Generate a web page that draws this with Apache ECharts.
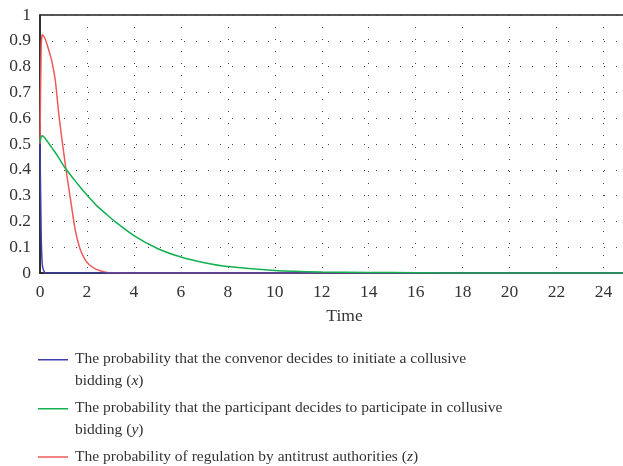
<!DOCTYPE html>
<html>
<head>
<meta charset="utf-8">
<script src="https://cdn.jsdelivr.net/npm/echarts@6/dist/echarts.min.js"></script>
<style>
  html, body { margin: 0; padding: 0; background: #fff; }
  #chart { width: 623px; height: 466px; }
</style>
</head>
<body>
<div id="chart"></div>
<script>
// time samples (x axis)
const time = [0, 0.05, 0.1, 0.2, 0.33, 0.5, 0.65, 0.82, 1.1, 1.3, 1.5, 1.7, 1.9, 2.1, 2.4, 2.8,
  3.2, 4, 5, 6, 7, 8, 10, 12, 14, 16, 18, 20, 22, 24, 25]

// x: convenor initiates collusive bidding
const probX = [0.5, 0.15, 0.03, 0.002, 0, 0, 0, 0, 0, 0, 0, 0, 0, 0, 0, 0,
  0, 0, 0, 0, 0, 0, 0, 0, 0, 0, 0, 0, 0, 0, 0]
// y: participant joins collusive bidding
const probY = [0.505, 0.528, 0.532, 0.524, 0.508, 0.486, 0.467, 0.443, 0.403, 0.38, 0.357, 0.334, 0.312, 0.292, 0.262, 0.23,
  0.199, 0.145, 0.095, 0.062, 0.04, 0.025, 0.01, 0.004, 0.002, 0.001, 0, 0, 0, 0, 0]
// z: regulation by antitrust authorities
const probZ = [0.5, 0.88, 0.924, 0.912, 0.877, 0.822, 0.748, 0.6, 0.405, 0.285, 0.167, 0.095, 0.055, 0.032, 0.014, 0.003,
  0.0005, 0, 0, 0, 0, 0, 0, 0, 0, 0, 0, 0, 0, 0, 0]

const names = [
  'The probability that the convenor decides to initiate a collusive bidding (x)',
  'The probability that the participant decides to participate in collusive bidding (y)',
  'The probability of regulation by antitrust authorities (z)'
]
const labels = {
  [names[0]]: 'The probability that the convenor decides to initiate a collusive\nbidding ({i|x})',
  [names[1]]: 'The probability that the participant decides to participate in collusive\nbidding ({i|y})',
  [names[2]]: 'The probability of regulation by antitrust authorities ({i|z})'
}
const colors = ['#3f3fae', '#12b050', '#ee5a5a']

const serif = 'Liberation Serif'
const twoLineIcon = 'path://M0,0M0,22M0,0H30V1.5H0Z'
const oneLineIcon = 'path://M0,0M0,22M0,10.25H30V11.75H0Z'

const pairs = (ys) => time.map((t, i) => [t, ys[i]])

const chart = echarts.init(document.getElementById('chart'))
chart.setOption({
  animation: false,
  grid: {
    left: 40,
    right: -4,
    top: 15,
    bottom: 193,
    outerBoundsMode: 'none',
    containLabel: false,
    show: true,
    borderColor: '#222',
    borderWidth: 1.5
  },
  xAxis: {
    type: 'value',
    min: 0,
    max: 25,
    interval: 2,
    name: 'Time',
    nameLocation: 'middle',
    nameGap: 34,
    nameTextStyle: { fontFamily: serif, fontSize: 17.5, color: '#333', padding: [0, 0, 0, 22] },
    axisLine: { show: true, lineStyle: { color: '#222', width: 1.5 } },
    axisTick: { show: false },
    axisLabel: { fontFamily: serif, fontSize: 17.5, color: '#333', margin: 10, showMaxLabel: false },
    splitLine: { show: true, lineStyle: { color: '#444', width: 1, type: [1, 11] } }
  },
  yAxis: {
    type: 'value',
    min: 0,
    max: 1,
    interval: 0.1,
    axisLine: { show: true, lineStyle: { color: '#222', width: 1.5 } },
    axisTick: { show: false },
    axisLabel: { fontFamily: serif, fontSize: 17.5, color: '#333', margin: 9 },
    splitLine: { show: true, lineStyle: { color: '#444', width: 1, type: [1, 11] } }
  },
  legend: {
    orient: 'vertical',
    left: 33,
    top: 343,
    itemWidth: 30,
    itemHeight: 22,
    itemGap: 5,
    itemStyle: { borderWidth: 0 },
    data: [
      { name: names[0], icon: twoLineIcon, itemStyle: { color: colors[0] } },
      { name: names[1], icon: twoLineIcon, itemStyle: { color: colors[1] } },
      { name: names[2], icon: oneLineIcon, itemStyle: { color: colors[2] } }
    ],
    formatter: (name) => labels[name],
    textStyle: {
      fontFamily: serif,
      fontSize: 15.5,
      lineHeight: 22,
      color: '#333',
      padding: [0, 0, 0, 2],
      rich: {
        i: { fontFamily: serif, fontSize: 15.5, fontStyle: 'italic', color: '#333', lineHeight: 22 }
      }
    }
  },
  // drawn red, blue, then green so the green tail lies on top along zero
  series: [
    { name: names[2], type: 'line', data: pairs(probZ), showSymbol: false, smooth: 0.2,
      lineStyle: { color: colors[2], width: 1.5 }, itemStyle: { color: colors[2] } },
    { name: names[0], type: 'line', data: pairs(probX), showSymbol: false, smooth: 0.2,
      lineStyle: { color: colors[0], width: 1.5 }, itemStyle: { color: colors[0] } },
    { name: names[1], type: 'line', data: pairs(probY), showSymbol: false, smooth: 0.2,
      lineStyle: { color: colors[1], width: 1.5 }, itemStyle: { color: colors[1] } }
  ]
})
</script>
</body>
</html>
